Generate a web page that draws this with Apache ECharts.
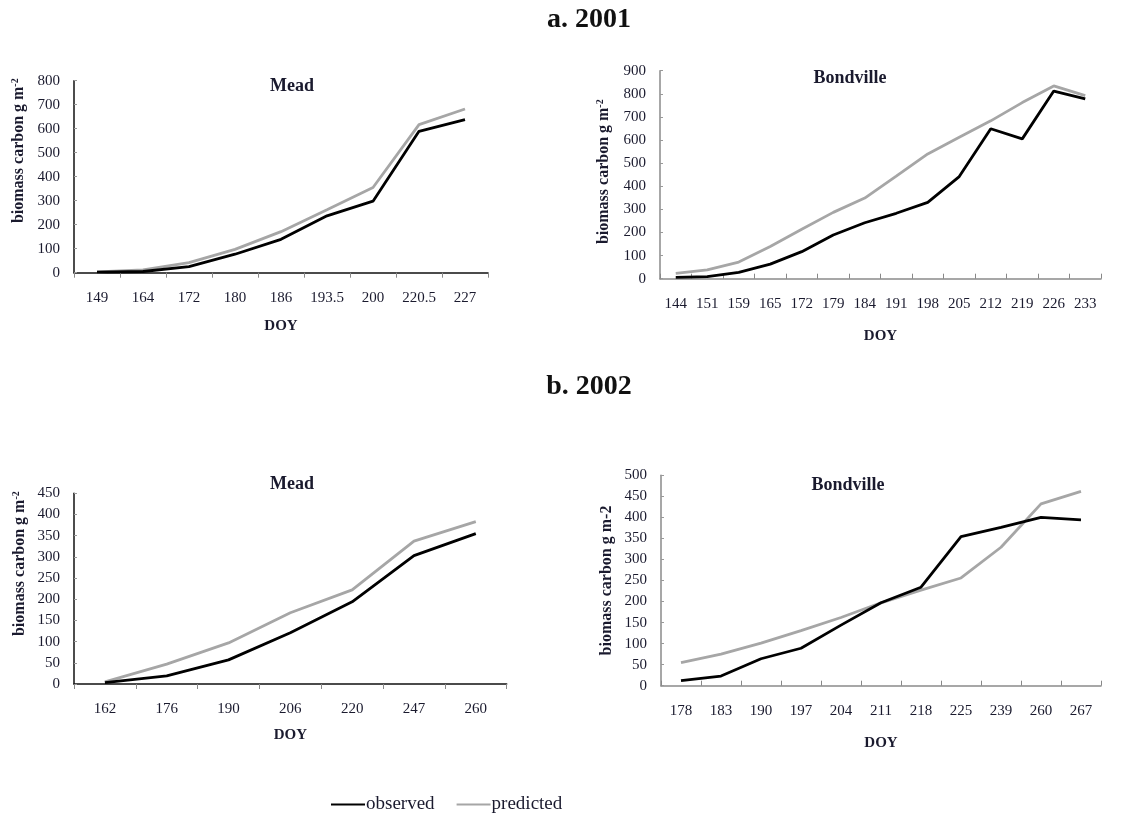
<!DOCTYPE html>
<html><head><meta charset="utf-8">
<script src="https://cdn.jsdelivr.net/npm/echarts@6/dist/echarts.min.js"></script>
<style>html,body{margin:0;padding:0;background:#fff}#c{width:1143px;height:817px}</style>
</head><body><div id="c"></div>
<script>
// ---- data ----
var mead01Doy = ['149','164','172','180','186','193.5','200','220.5','227'];
var mead01Obs = [2,5,25,77,139,237,298,589,638];
var mead01Pred = [3,12,42,97,171,262,355,617,682];

var bond01Doy = ['144','151','159','165','172','179','184','191','198','205','212','219','226','233'];
var bond01Obs = [6,9,27,63,117,189,242,283,330,442,649,605,812,778];
var bond01Pred = [23,38,72,139,214,287,349,444,540,612,683,762,834,792];

var mead02Doy = ['162','176','190','206','220','247','260'];
var mead02Obs = [3,19,57,121,194,303,355];
var mead02Pred = [5,47,97,168,222,337,383];

var bond02Doy = ['178','183','190','197','204','211','218','225','239','260','267'];
var bond02Obs = [12,23,64,89,144,197,234,354,376,400,394];
var bond02Pred = [55,75,101,131,162,197,227,256,329,432,462];

var seriesNames = ['observed','predicted'];
var sectionTitles = ['a. 2001','b. 2002'];
var panelTitles = ['Mead','Bondville','Mead','Bondville'];

// ---- chart ----
var FONT = '"Liberation Serif","Times New Roman",serif';
var TXT = '#1a1a2e';
var grids = [
  {left:74, top:80.7, width:414, height:192},
  {left:660, top:70.7, width:441, height:208},
  {left:74, top:493.3, width:432.7, height:190.7},
  {left:661, top:475.3, width:440, height:210.4}
];
var cats = [mead01Doy, bond01Doy, mead02Doy, bond02Doy];
var obs = [mead01Obs, bond01Obs, mead02Obs, bond02Obs];
var pred = [mead01Pred, bond01Pred, mead02Pred, bond02Pred];
var yMax = [800, 900, 450, 500];
var yInt = [100, 100, 50, 50];
var xNameGap = [46, 50, 44, 50];
var yNameGap = [46, 47, 45, 46];
var yNamePad = [[0,0,0,52],[0,0,0,6],[0,0,0,50],[0,0,0,0]];
var supName = [true, true, true, false];
var axisColor = ['#111', '#8a8a8a', '#111', '#8a8a8a'];
var xTickInside = [false, true, false, true];

var xAxes = [], yAxes = [], series = [];
for (var i = 0; i < 4; i++) {
  xAxes.push({
    type:'category', gridIndex:i, data:cats[i], boundaryGap:true,
    name:'DOY', nameLocation:'middle', nameGap:xNameGap[i],
    nameTextStyle:{fontFamily:FONT, fontWeight:'bold', fontSize:15, color:TXT},
    axisLine:{lineStyle:{color:axisColor[i], width:1.5}},
    axisTick:{show:true, inside:xTickInside[i], length:5, lineStyle:{color:'#888'}},
    axisLabel:{fontFamily:FONT, fontSize:15, color:TXT, margin:18, interval:0},
    splitLine:{show:false}
  });
  yAxes.push({
    type:'value', gridIndex:i, min:0, max:yMax[i], interval:yInt[i],
    name: supName[i] ? 'biomass carbon g m{sup|-2}' : 'biomass carbon g m-2',
    nameLocation:'middle', nameGap:yNameGap[i], nameRotate:90,
    nameTextStyle:{fontFamily:FONT, fontWeight:'bold', fontSize:16, color:TXT, padding:yNamePad[i],
      rich:{sup:{fontFamily:FONT, fontWeight:'bold', fontSize:10, color:TXT, verticalAlign:'top', padding:[0,0,8,0]}}},
    axisLine:{show:true, lineStyle:{color:axisColor[i], width:1.5}},
    axisTick:{show:true, inside:true, length:3, lineStyle:{color:'#999'}},
    axisLabel:{fontFamily:FONT, fontSize:15, color:TXT, margin:14},
    splitLine:{show:false}
  });
  series.push({
    name:seriesNames[0], type:'line', xAxisIndex:i, yAxisIndex:i, data:obs[i],
    symbol:'none', lineStyle:{color:'#000', width:2.8}, itemStyle:{color:'#000'}, z:3
  });
  series.push({
    name:seriesNames[1], type:'line', xAxisIndex:i, yAxisIndex:i, data:pred[i],
    symbol:'none', lineStyle:{color:'#a6a6a6', width:2.8}, itemStyle:{color:'#a6a6a6'}, z:2
  });
}

var titleStyle = {fontFamily:FONT, fontWeight:'bold', fontSize:18, color:TXT};
var bigTitle = {fontFamily:FONT, fontWeight:'bold', fontSize:28, color:'#111'};
var chart = echarts.init(document.getElementById('c'), null, {renderer:'canvas'});
chart.setOption({
  backgroundColor:'#fff',
  animation:false,
  title:[
    {text:sectionTitles[0], left:584, top:1, textAlign:'center', textStyle:bigTitle},
    {text:sectionTitles[1], left:584, top:368, textAlign:'center', textStyle:bigTitle},
    {text:panelTitles[0], left:287, top:72, textAlign:'center', textStyle:titleStyle},
    {text:panelTitles[1], left:845, top:64, textAlign:'center', textStyle:titleStyle},
    {text:panelTitles[2], left:287, top:470, textAlign:'center', textStyle:titleStyle},
    {text:panelTitles[3], left:843, top:471, textAlign:'center', textStyle:titleStyle}
  ],
  legend:{
    data:seriesNames, left:326, top:790, itemWidth:34, itemHeight:10, itemGap:22,
    icon:'path://M0,4L34,4L34,6L0,6Z',
    textStyle:{fontFamily:FONT, fontSize:19, color:TXT, padding:[0,0,0,-4]}
  },
  grid:grids,
  xAxis:xAxes,
  yAxis:yAxes,
  series:series
});
</script></body></html>
